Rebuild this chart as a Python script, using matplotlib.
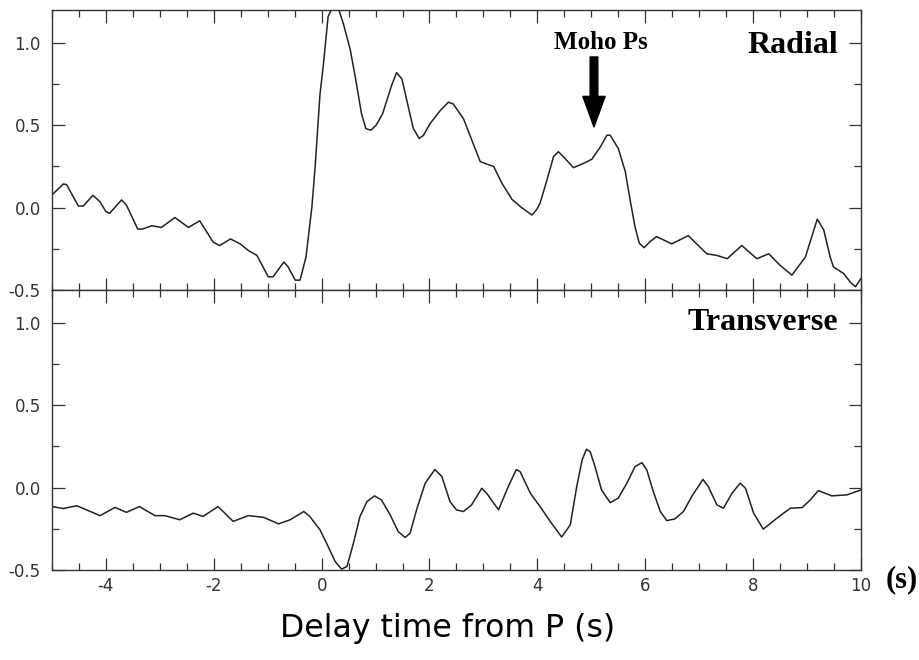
import matplotlib
matplotlib.use("Agg")
import matplotlib.pyplot as plt
from matplotlib.ticker import MultipleLocator

plt.rcParams['axes.unicode_minus'] = False

# radial receiver function (time in s, amplitude)
rad_t = [-5.0, -4.79, -4.73, -4.51, -4.42, -4.24, -4.11, -4.0, -3.93, -3.71, -3.62,
         -3.41, -3.32, -3.15, -2.97, -2.72, -2.47, -2.26, -2.01, -1.89, -1.69, -1.51,
         -1.36, -1.2, -0.99, -0.9, -0.7, -0.62, -0.49, -0.4, -0.29, -0.18, -0.12,
         -0.03, 0.03, 0.12, 0.26, 0.40, 0.53, 0.62, 0.74, 0.82, 0.91, 1.01, 1.13, 1.30,
         1.39, 1.49, 1.58, 1.70, 1.81, 1.89, 2.01, 2.20, 2.35, 2.44, 2.63, 2.69, 2.94,
         3.06, 3.19, 3.34, 3.53, 3.71, 3.90, 3.99, 4.05, 4.18, 4.30, 4.39, 4.48, 4.67,
         4.83, 5.01, 5.17, 5.29, 5.35, 5.50, 5.63, 5.72, 5.81, 5.89, 5.98, 6.09, 6.21,
         6.34, 6.49, 6.8, 7.14, 7.33, 7.52, 7.79, 8.07, 8.29, 8.5, 8.72, 8.97, 9.19,
         9.31, 9.43, 9.49, 9.68, 9.81, 9.9, 10.0]
rad_a = [0.077, 0.144, 0.14, 0.01, 0.01, 0.075, 0.036, -0.024, -0.034, 0.047, 0.016,
         -0.13, -0.13, -0.11, -0.12, -0.06, -0.12, -0.08, -0.21, -0.23, -0.19, -0.22,
         -0.26, -0.29, -0.42, -0.42, -0.33, -0.36, -0.44, -0.44, -0.30, 0.006, 0.25,
         0.69, 0.86, 1.16, 1.26, 1.12, 0.96, 0.80, 0.57, 0.48, 0.47, 0.50, 0.57, 0.745,
         0.82, 0.78, 0.65, 0.48, 0.42, 0.44, 0.51, 0.59, 0.64, 0.63, 0.54, 0.49, 0.28,
         0.265, 0.25, 0.15, 0.05, 0.0, -0.045, -0.01, 0.027, 0.17, 0.31, 0.34, 0.31, 0.243,
         0.265, 0.294, 0.37, 0.44, 0.44, 0.36, 0.22, 0.047, -0.115, -0.216, -0.243, -0.206, -0.176,
         -0.196, -0.22, -0.17, -0.28, -0.29, -0.31, -0.23, -0.31, -0.28, -0.35, -0.41, -0.30, -0.07,
         -0.135, -0.30, -0.36, -0.40, -0.455, -0.48, -0.43]

# transverse receiver function
tra_t = [-5.0, -4.79, -4.54, -4.11, -3.83, -3.62, -3.38, -3.09, -2.91, -2.63, -2.38,
         -2.2, -1.92, -1.64, -1.36, -1.08, -0.8, -0.59, -0.33, -0.22, -0.03, 0.12, 0.25,
         0.37, 0.47, 0.59, 0.71, 0.84, 0.98, 1.11, 1.27, 1.42, 1.55, 1.64, 1.76, 1.92,
         2.10, 2.23, 2.38, 2.50, 2.63, 2.78, 2.97, 3.06, 3.28, 3.46, 3.61, 3.68, 3.87,
         4.05, 4.24, 4.45, 4.61, 4.73, 4.83, 4.91, 4.98, 5.07, 5.19, 5.35, 5.50, 5.66,
         5.81, 5.94, 6.03, 6.15, 6.28, 6.40, 6.55, 6.71, 6.86, 7.07, 7.17, 7.33, 7.45,
         7.61, 7.76, 7.86, 8.01, 8.19, 8.44, 8.69, 8.91, 9.06, 9.21, 9.46, 9.74, 10.0]
tra_a = [-0.115, -0.127, -0.11, -0.17, -0.12, -0.15, -0.115, -0.17, -0.17, -0.195, -0.155,
         -0.175, -0.115, -0.205, -0.17, -0.18, -0.22, -0.196, -0.145, -0.175, -0.256, -0.357, -0.448,
         -0.495, -0.479, -0.337, -0.176, -0.085, -0.05, -0.075, -0.165, -0.267, -0.303, -0.276, -0.135, 0.027,
         0.11, 0.067, -0.085, -0.135, -0.145, -0.105, -0.004, -0.034, -0.135, 0.006, 0.11, 0.097, -0.034,
         -0.115, -0.206, -0.30, -0.226, 0.006, 0.168, 0.233, 0.218, 0.127, -0.014, -0.091, -0.064, 0.027,
         0.127, 0.152, 0.107, -0.024, -0.145, -0.2, -0.19, -0.145, -0.055, 0.05, 0.006, -0.105, -0.125,
         -0.034, 0.027, -0.004, -0.155, -0.252, -0.186, -0.125, -0.121, -0.075, -0.018, -0.05, -0.044, -0.014]

yticks = [-0.5, 0.0, 0.5, 1.0]
ytick_labels = ["-0.5", "0.0", "0.5", "1.0"]
xticks = [-4, -2, 0, 2, 4, 6, 8, 10]
xtick_labels = ["-4", "-2", "0", "2", "4", "6", "8", "10"]

tick_font = ['Liberation Sans Narrow', 'DejaVu Sans']
serif = ['Liberation Serif', 'DejaVu Serif']
ink = '#222222'

fig = plt.figure(figsize=(9.2, 6.6), dpi=100)
ax1 = fig.add_axes([0.0565, 0.5606, 0.8793, 0.4242])
ax2 = fig.add_axes([0.0565, 0.1364, 0.8793, 0.4242])

for ax, t, a in [(ax1, rad_t, rad_a), (ax2, tra_t, tra_a)]:
    ax.plot(t, a, color=ink, lw=1.1, solid_joinstyle='round')
    ax.set_xlim(-5, 10)
    ax.set_ylim(-0.5, 1.2)
    ax.set_yticks(yticks)
    ax.set_yticklabels(ytick_labels, family=tick_font, fontsize=12, color='#333333')
    ax.yaxis.set_minor_locator(MultipleLocator(0.25))
    ax.set_xticks(xticks)
    ax.xaxis.set_minor_locator(MultipleLocator(0.5))
    ax.tick_params(which='both', direction='in', top=True, right=True, colors='#333333', width=0.9)
    ax.tick_params(which='major', length=9, pad=8)
    ax.tick_params(which='minor', length=5)
    ax.tick_params(axis='x', which='major', pad=5)
    for s in ax.spines.values():
        s.set_color('#333333')
        s.set_linewidth(1.0)

ax1.set_xticklabels([])
ax2.set_xticklabels(xtick_labels, family=tick_font, fontsize=12, color='#333333')

ax1.text(0.9716, 0.872, 'Radial', transform=ax1.transAxes, ha='right', va='center',
         family=serif, fontweight='bold', fontsize=23)
ax2.text(0.9716, 0.883, 'Transverse', transform=ax2.transAxes, ha='right', va='center',
         family=serif, fontweight='bold', fontsize=23)

ax1.text(5.17, 1.0, 'Moho Ps', ha='center', va='center', family=serif,
         fontweight='bold', fontsize=18)
ax1.annotate('', xy=(5.05, 0.49), xytext=(5.05, 0.915),
             arrowprops=dict(facecolor='black', edgecolor='black', width=5.5,
                             headwidth=16, headlength=22, shrink=0))

fig.text(0.98, 0.121, '(s)', ha='center', va='center', family=serif,
         fontweight='bold', fontsize=22)
fig.text(0.487, 0.048, 'Delay time from P (s)', ha='center', va='center',
         family='DejaVu Sans', fontsize=22.7)

fig.savefig('out.png', dpi=100)
